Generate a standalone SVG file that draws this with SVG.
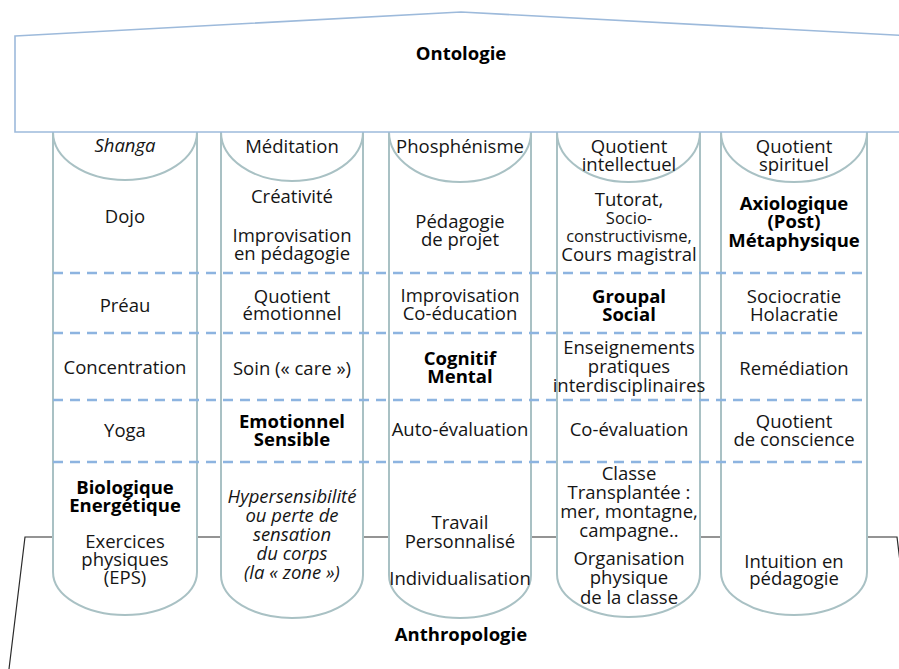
<svg xmlns="http://www.w3.org/2000/svg" width="899" height="669" viewBox="0 0 899 669">
<style>
text{font-family:"Open Sans","Liberation Sans",sans-serif;font-size:18.5px;fill:#151515;text-anchor:middle}
.b{font-weight:bold;fill:#000}
.i{font-style:italic}
.s{font-size:16.5px}
.col{fill:#fff;stroke:#a9c1c4;stroke-width:2}
.cap{fill:none;stroke:#a9c1c4;stroke-width:2}
.dash{stroke:#8db4e0;stroke-width:2.5;stroke-dasharray:10 7;fill:none}
</style>
<rect width="899" height="669" fill="#fff"/>
<g id="anthropologie">
<polyline points="9,669 25,537 897,537 913,669" fill="none" stroke="#2a2a2a" stroke-width="1.2"/>
<text class="b" x="461" y="641">Anthropologie</text>
</g>
<g id="col1">
<path class="col" d="M53,132 L53,572 A72,43 0 0 0 197,572 L197,132"/>
<path class="cap" d="M53,132 A72,48 0 0 0 197,132"/>
<text class="i" x="125" y="152">Shanga</text>
<text x="125" y="223">Dojo</text>
<text x="125" y="312">Préau</text>
<text x="125" y="374">Concentration</text>
<text x="125" y="437">Yoga</text>
<text class="b" x="125" y="494">Biologique</text>
<text class="b" x="125" y="512">Energétique</text>
<text x="125" y="548">Exercices</text>
<text x="125" y="566">physiques</text>
<text x="125" y="584">(EPS)</text>
</g>
<g id="col2">
<path class="col" d="M221,132 L221,575 A71,43 0 0 0 363,575 L363,132"/>
<path class="cap" d="M221,132 A71,49 0 0 0 363,132"/>
<text x="292" y="153">Méditation</text>
<text x="292" y="203">Créativité</text>
<text x="292" y="242">Improvisation</text>
<text x="292" y="260">en pédagogie</text>
<text x="292" y="303">Quotient</text>
<text x="292" y="320">émotionnel</text>
<text x="292" y="375">Soin (« care »)</text>
<text class="b" x="292" y="428">Emotionnel</text>
<text class="b" x="292" y="446">Sensible</text>
<text class="i" x="292" y="503">Hypersensibilité</text>
<text class="i" x="292" y="522">ou perte de</text>
<text class="i" x="292" y="541">sensation</text>
<text class="i" x="292" y="560">du corps</text>
<text class="i" x="292" y="579">(la « zone »)</text>
</g>
<g id="col3">
<path class="col" d="M389,132 L389,575 A71,43 0 0 0 531,575 L531,132"/>
<path class="cap" d="M389,132 A71,50 0 0 0 531,132"/>
<text x="460" y="153">Phosphénisme</text>
<text x="460" y="228">Pédagogie</text>
<text x="460" y="246">de projet</text>
<text x="460" y="302">Improvisation</text>
<text x="460" y="320">Co-éducation</text>
<text class="b" x="460" y="365">Cognitif</text>
<text class="b" x="460" y="383">Mental</text>
<text x="460" y="436">Auto-évaluation</text>
<text x="460" y="529">Travail</text>
<text x="460" y="548">Personnalisé</text>
<text x="460" y="585">Individualisation</text>
</g>
<g id="col4">
<path class="col" d="M557,132 L557,574 A71.5,43 0 0 0 700,574 L700,132"/>
<path class="cap" d="M557,132 A71.5,50 0 0 0 700,132"/>
<text x="629" y="153">Quotient</text>
<text x="629" y="171">intellectuel</text>
<text x="629" y="206">Tutorat,</text>
<text class="s" x="629" y="224">Socio-</text>
<text class="s" x="629" y="242">constructivisme,</text>
<text x="629" y="261">Cours magistral</text>
<text class="b" x="629" y="303">Groupal</text>
<text class="b" x="629" y="321">Social</text>
<text x="629" y="354">Enseignements</text>
<text x="629" y="373">pratiques</text>
<text x="629" y="392">interdisciplinaires</text>
<text x="629" y="436">Co-évaluation</text>
<text x="629" y="480">Classe</text>
<text x="629" y="499">Transplantée :</text>
<text x="629" y="518">mer, montagne,</text>
<text x="629" y="537">campagne..</text>
<text x="629" y="565">Organisation</text>
<text x="629" y="584">physique</text>
<text x="629" y="604">de la classe</text>
</g>
<g id="col5">
<path class="col" d="M721,132 L721,572 A73,43 0 0 0 867,572 L867,132"/>
<path class="cap" d="M721,132 A73,50 0 0 0 867,132"/>
<text x="794" y="153">Quotient</text>
<text x="794" y="171">spirituel</text>
<text class="b" x="794" y="210">Axiologique</text>
<text class="b" x="794" y="228">(Post)</text>
<text class="b" x="794" y="247">Métaphysique</text>
<text x="794" y="303">Sociocratie</text>
<text x="794" y="321">Holacratie</text>
<text x="794" y="375">Remédiation</text>
<text x="794" y="428">Quotient</text>
<text x="794" y="446">de conscience</text>
<text x="794" y="568">Intuition en</text>
<text x="794" y="585">pédagogie</text>
</g>
<g id="connectors">
<line class="dash" x1="53" y1="273" x2="867" y2="273"/>
<line class="dash" x1="53" y1="333" x2="867" y2="333"/>
<line class="dash" x1="53" y1="400" x2="867" y2="400"/>
<line class="dash" x1="53" y1="462" x2="867" y2="462"/>
</g>
<g id="ontologie">
<polygon points="15,36 461,12 912,36 912,132 15,132" fill="#fff" stroke="#9dbadb" stroke-width="1.6"/>
<text class="b" x="461" y="60">Ontologie</text>
</g>
</svg>
